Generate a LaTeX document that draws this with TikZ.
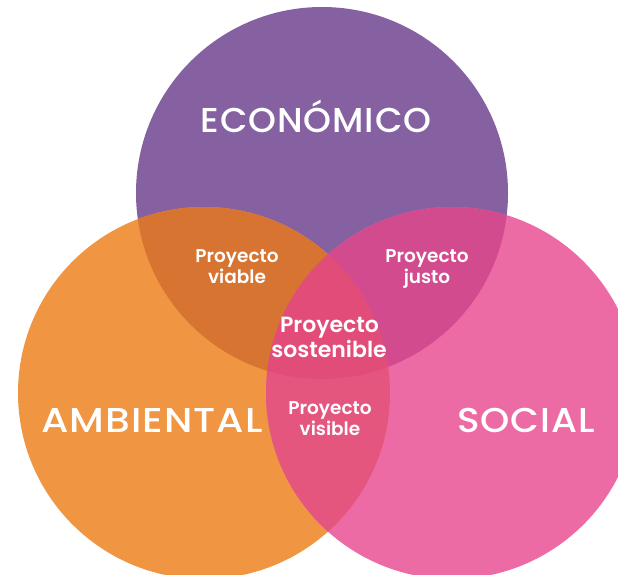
\documentclass[tikz,border=0pt]{standalone}
\usepackage{fontspec}
\newfontfamily\bigf[LetterSpace=2.5]{Poppins Medium}
\newfontfamily\smf{Poppins SemiBold}
\definecolor{cP}{RGB}{134,97,161}
\definecolor{cO}{RGB}{240,150,66}
\definecolor{cK}{RGB}{236,107,165}
\definecolor{cOP}{RGB}{215,116,49}
\definecolor{cPK}{RGB}{210,75,142}
\definecolor{cOK}{RGB}{229,86,127}
\definecolor{cAll}{RGB}{225,76,120}
\tikzset{
  bigtxt/.style={text=white,inner sep=0pt,anchor=base,font=\bigf\fontsize{34.5}{40}\selectfont},
  midtxt/.style={text=white,inner sep=0pt,anchor=base,font=\smf\fontsize{22}{26}\selectfont},
  smtxt/.style={text=white,inner sep=0pt,anchor=base,font=\smf\fontsize{18.5}{21}\selectfont}
}
\begin{document}
\begin{tikzpicture}[x=1pt,y=-1pt]
\useasboundingbox (0,0) rectangle (618,575);
\clip (0,0) rectangle (618,575);
\fill[cP] (322,193) circle[radius=186pt];
\fill[cO] (204,393) circle[radius=186pt];
\fill[cK] (452,393) circle[radius=186pt];
\begin{scope}
  \clip (322,193) circle[radius=186pt];
  \fill[cOP] (204,393) circle[radius=186pt];
  \fill[cPK] (452,393) circle[radius=186pt];
\end{scope}
\begin{scope}
  \clip (204,393) circle[radius=186pt];
  \fill[cOK] (452,393) circle[radius=186pt];
  \clip (452,393) circle[radius=186pt];
  \fill[cAll] (322,193) circle[radius=186pt];
\end{scope}
\node[bigtxt] (eco) at (316,132) {\scalebox{1.03}[1]{ECONÓMICO}};
\node[bigtxt] (amb) at (152,432) {\scalebox{1.14}[1]{AMBIENTAL}};
\node[bigtxt] (soc) at (526,432) {\scalebox{1.08}[1]{SOCIAL}};
\node[smtxt] (via1) at (237,262) {Proyecto};
\node[smtxt] (via2) at (237,283) {viable};
\node[smtxt] (jus1) at (427,262) {Proyecto};
\node[smtxt] (jus2) at (427,283) {justo};
\node[midtxt] (sos1) at (329.5,332) {Proyecto};
\node[midtxt] (sos2) at (329,357) {sostenible};
\node[smtxt] (vis1) at (330,414) {Proyecto};
\node[smtxt] (vis2) at (330,435) {visible};
\end{tikzpicture}
\end{document}
